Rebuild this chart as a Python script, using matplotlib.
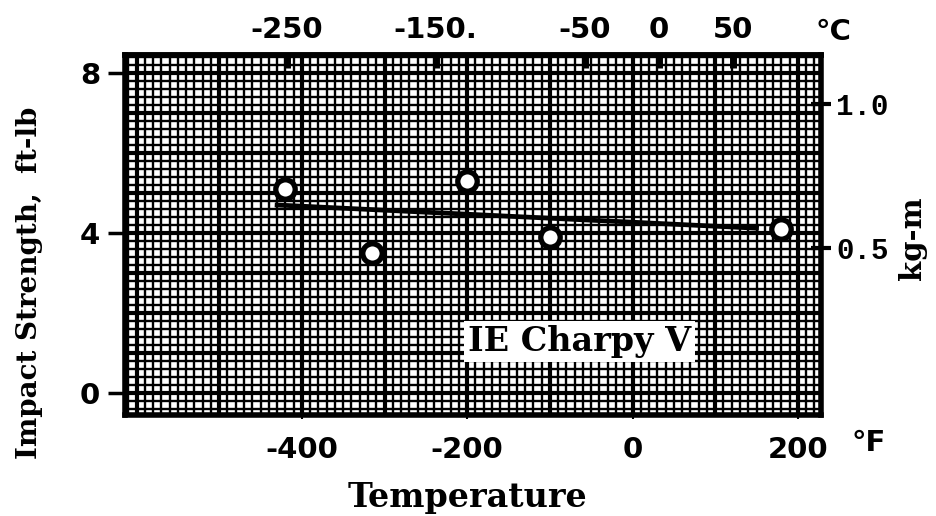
import numpy as np
import matplotlib
matplotlib.use("Agg")
import matplotlib.pyplot as plt

# Charpy V-notch impact data (temperature in deg F, energy in ft-lb)
temps_F = [-420, -315, -200, -100, 180]
impact_ftlb = [5.1, 3.5, 5.3, 3.9, 4.1]

# Fitted trend line end points
trend_F = [-430, 150]
trend_ftlb = [4.7, 4.12]

# Axis ticks
xticks_F = [-400, -200, 0, 200]
yticks_ftlb = [0, 4, 8]
top_ticks_C = [-250, -150, -50, 0, 50]
top_labels_C = ["-250", "-150.", "-50", "0", "50"]
right_ticks_kgm = [0.5, 1.0]
right_labels_kgm = ["0.5", "1.0"]

FTLB_TO_KGM = 0.138255

W, H = 936, 516
fig = plt.figure(figsize=(W / 100, H / 100), dpi=100)
fig.patch.set_facecolor("white")
L, R, T, B = 125, 821, 55, 415
ax = fig.add_axes([L / W, 1 - B / H, (R - L) / W, (B - T) / H])
xmin, xmax = -614, 228
ymin, ymax = -0.55, 8.45
ax.set_xlim(xmin, xmax)
ax.set_ylim(ymin, ymax)

# Graph paper background
for x in np.arange(-610, 230, 10):
    heavy = abs(x % 100) < 1e-6
    ax.axvline(x, color="black", lw=3.0 if heavy else 1.7, zorder=1)
for y in np.arange(-0.4, 8.5, 0.2):
    heavy = abs(round(y, 1) % 1.0) < 1e-6
    ax.axhline(y, color="black", lw=3.0 if heavy else 1.7, zorder=1)

for s in ax.spines.values():
    s.set_linewidth(4)
    s.set_zorder(5)

# Trend line and measured points
ax.plot(trend_F, trend_ftlb, color="black", lw=3.4, zorder=3)
ax.plot(temps_F, impact_ftlb, "o", ms=14, mfc="white", mec="black",
        mew=3.8, zorder=4)

ax.text(-64, 1.28, "IE Charpy V", fontsize=24, fontweight="bold",
        family="DejaVu Serif", ha="center", va="center", zorder=6,
        bbox=dict(facecolor="white", edgecolor="none", pad=3))

tick_font = dict(family="DejaVu Sans", fontweight="bold", fontsize=21)

# Bottom axis: Fahrenheit
ax.set_xticks(xticks_F)
ax.set_xticklabels([str(v) for v in xticks_F], **tick_font)
ax.tick_params(axis="x", direction="out", length=3, width=1.5, pad=12)

# Left axis: ft-lb
ax.set_yticks(yticks_ftlb)
ax.set_yticklabels([str(v) for v in yticks_ftlb], **tick_font)
ax.tick_params(axis="y", direction="out", length=12, width=2.5, pad=6)

# Top axis: Celsius
top = ax.secondary_xaxis("top", functions=(lambda f: (f - 32) / 1.8,
                                            lambda c: c * 1.8 + 32))
top.set_xticks(top_ticks_C)
top.set_xticklabels(top_labels_C, **tick_font)
top.tick_params(direction="in", length=9, width=5, pad=8)
top.spines["top"].set_linewidth(4)

# Right axis: kg-m
right = ax.secondary_yaxis("right", functions=(lambda v: v * FTLB_TO_KGM,
                                               lambda v: v / FTLB_TO_KGM))
right.set_yticks(right_ticks_kgm)
right.set_yticklabels(right_labels_kgm, family="Liberation Mono",
                      fontweight="bold", fontsize=21)
right.tick_params(direction="inout", length=14, width=3, pad=4)

# Unit and axis labels
fig.text(852 / W, 1 - 443 / H, "\u00b0F", ha="left", va="center",
         **tick_font)
fig.text(815 / W, 1 - 32 / H, "\u00b0C", ha="left", va="center",
         **tick_font)
fig.text(468 / W, 1 - 497 / H, "Temperature", ha="center", va="center",
         family="DejaVu Serif", fontweight="bold", fontsize=24)
fig.text(30 / W, 1 - 283 / H, "Impact Strength,  ft-lb", ha="center",
         va="center", rotation=90, family="DejaVu Serif",
         fontweight="bold", fontsize=20)
fig.text(912 / W, 1 - 238 / H, "kg-m", ha="center", va="center",
         rotation=90, family="DejaVu Serif", fontweight="bold", fontsize=21)

fig.savefig("out.png", dpi=100, facecolor="white")
